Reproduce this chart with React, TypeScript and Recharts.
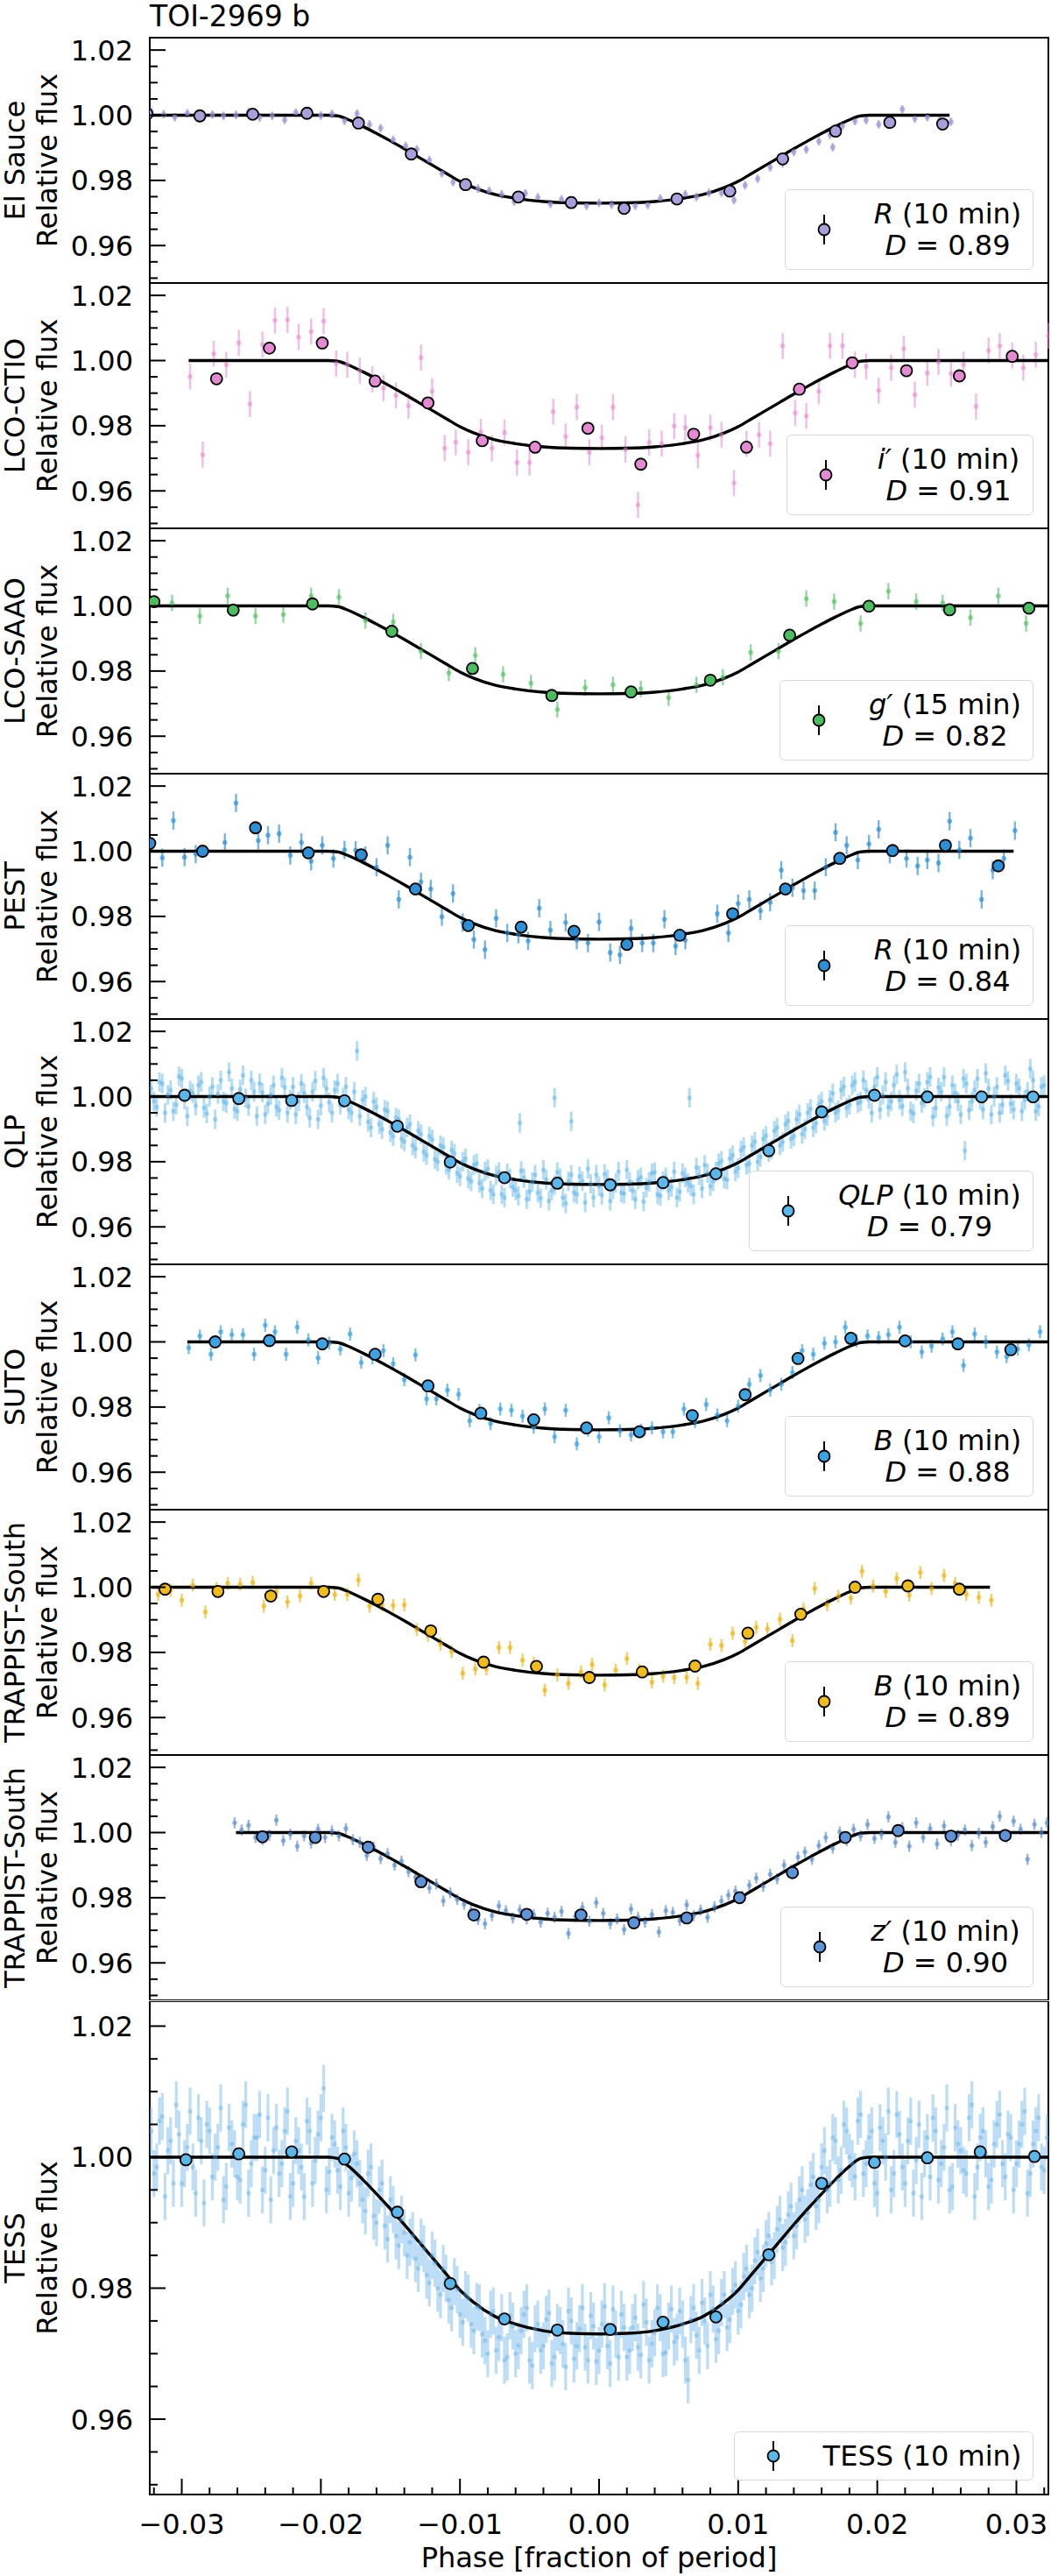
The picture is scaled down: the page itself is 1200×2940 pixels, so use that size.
import React from 'react';
import { ComposedChart, Scatter, Line, XAxis, YAxis, ErrorBar, ReferenceArea, Legend, Label } from 'recharts';

const FONT = '"DejaVu Sans", Verdana, sans-serif';
const PLOT_LEFT = 171;

const PHASE_DOMAIN: [number, number] = [-0.0323, 0.0323];
const FLUX_DOMAIN: [number, number] = [0.9485, 1.0238];

const yMajorTicks = [0.96, 0.98, 1.0, 1.02];
const yMinorTicks = [0.95, 0.955, 0.965, 0.97, 0.975, 0.985, 0.99, 0.995, 1.005, 1.01, 1.015];
const xMajorTicks = [-0.03, -0.02, -0.01, 0, 0.01, 0.02, 0.03];
const xMinorTicks = [-0.032, -0.028, -0.026, -0.024, -0.022, -0.018, -0.016, -0.014, -0.012, -0.008, -0.006, -0.004, -0.002, 0.002, 0.004, 0.006, 0.008, 0.012, 0.014, 0.016, 0.018, 0.022, 0.024, 0.026, 0.028, 0.032];

// transit model (phase, relative flux)
const modelPhase = [-0.0195, -0.0188, -0.018, -0.017, -0.016, -0.015, -0.014, -0.013, -0.012, -0.011, -0.01, -0.009, -0.0075, -0.006, -0.004, -0.002, 0, 0.002, 0.004, 0.006, 0.0075, 0.009, 0.01, 0.011, 0.012, 0.013, 0.014, 0.015, 0.016, 0.017, 0.018, 0.0188, 0.0195];
const modelFlux = [1.0, 0.9998, 0.9986, 0.9966, 0.9944, 0.9921, 0.9897, 0.9872, 0.9847, 0.9822, 0.9797, 0.9778, 0.9757, 0.9745, 0.9735, 0.9731, 0.973, 0.9731, 0.9735, 0.9745, 0.9757, 0.9778, 0.9797, 0.9822, 0.9847, 0.9872, 0.9897, 0.9921, 0.9944, 0.9966, 0.9986, 0.9998, 1.0];

// ---------- El Sauce ----------
const elSauceRaw: [number, number][] = [[-0.0322,1.0012],[-0.0313,1.0003],[-0.0305,0.9994],[-0.0296,1.0006],[-0.0287,0.9990],[-0.0278,1.0002],[-0.0270,0.9998],[-0.0261,1.0001],[-0.0252,1.0010],[-0.0244,0.9993],[-0.0235,0.9998],[-0.0226,0.9986],[-0.0218,1.0008],[-0.0209,1.0012],[-0.0200,0.9999],[-0.0192,1.0004],[-0.0183,0.9983],[-0.0174,1.0005],[-0.0165,0.9972],[-0.0157,0.9960],[-0.0148,0.9924],[-0.0139,0.9905],[-0.0131,0.9895],[-0.0122,0.9862],[-0.0113,0.9822],[-0.0105,0.9795],[-0.0096,0.9790],[-0.0087,0.9775],[-0.0079,0.9768],[-0.0070,0.9757],[-0.0061,0.9735],[-0.0053,0.9760],[-0.0044,0.9748],[-0.0035,0.9728],[-0.0027,0.9742],[-0.0018,0.9738],[-0.0009,0.9722],[0.0000,0.9731],[0.0009,0.9726],[0.0018,0.9718],[0.0026,0.9722],[0.0035,0.9725],[0.0044,0.9744],[0.0053,0.9740],[0.0062,0.9757],[0.0070,0.9749],[0.0079,0.9762],[0.0088,0.9762],[0.0097,0.9740],[0.0105,0.9785],[0.0114,0.9805],[0.0123,0.9840],[0.0132,0.9852],[0.0140,0.9888],[0.0149,0.9895],[0.0158,0.9920],[0.0166,0.9940],[0.0168,0.9902],[0.0175,0.9968],[0.0184,0.9982],[0.0192,0.9985],[0.0201,0.9972],[0.0210,0.9978],[0.0218,1.0018],[0.0227,0.9990],[0.0236,0.9994],[0.0245,0.9985],[0.0253,0.9980]];
const elSauceBin: [number, number][] = [[-0.0325,1.0004],[-0.0287,0.9998],[-0.0249,1.0003],[-0.0210,1.0006],[-0.0173,0.9976],[-0.0135,0.9881],[-0.0096,0.9787],[-0.0058,0.9749],[-0.0020,0.9732],[0.0018,0.9714],[0.0056,0.9743],[0.0094,0.9767],[0.0132,0.9866],[0.0170,0.9951],[0.0209,0.9978],[0.0247,0.9973]];

// ---------- LCO-CTIO ----------
const ctioRaw: [number, number][] = [[-0.0294,0.9951],[-0.0285,0.9711],[-0.0277,1.0021],[-0.0268,0.9987],[-0.0259,1.0054],[-0.0251,0.9866],[-0.0242,1.0049],[-0.0233,1.0123],[-0.0224,1.0125],[-0.0216,1.0072],[-0.0207,1.0089],[-0.0198,1.0121],[-0.0189,0.9991],[-0.0181,0.9987],[-0.0172,0.9969],[-0.0163,0.9942],[-0.0155,0.9915],[-0.0146,0.9893],[-0.0137,0.9861],[-0.0128,1.0009],[-0.0120,0.9906],[-0.0111,0.9731],[-0.0103,0.9749],[-0.0094,0.9718],[-0.0085,0.9781],[-0.0077,0.9731],[-0.0068,0.9779],[-0.0059,0.9687],[-0.0050,0.9687],[-0.0033,0.9843],[-0.0024,0.9767],[-0.0016,0.9857],[-0.0007,0.9718],[0.0002,0.9763],[0.0010,0.9857],[0.0019,0.9727],[0.0028,0.9557],[0.0036,0.9749],[0.0045,0.9745],[0.0054,0.9799],[0.0062,0.9794],[0.0071,0.9709],[0.0080,0.9794],[0.0088,0.9772],[0.0097,0.9624],[0.0106,0.9745],[0.0115,0.9772],[0.0123,0.9745],[0.0132,1.0045],[0.0141,0.9839],[0.0149,0.9830],[0.0158,0.9906],[0.0166,1.0045],[0.0175,1.0045],[0.0184,0.9987],[0.0192,0.9982],[0.0201,0.9908],[0.0210,0.9978],[0.0219,1.0036],[0.0227,0.9895],[0.0236,0.9962],[0.0244,0.9996],[0.0253,0.9960],[0.0262,0.9987],[0.0271,0.9859],[0.0280,1.0031],[0.0288,1.0045],[0.0297,1.0015],[0.0305,0.9978],[0.0314,1.0018],[0.0323,1.0076]];
const ctioBin: [number, number][] = [[-0.0275,0.9944],[-0.0237,1.0038],[-0.0199,1.0054],[-0.0161,0.9937],[-0.0123,0.9870],[-0.0084,0.9754],[-0.0046,0.9734],[-0.0008,0.9792],[0.0030,0.9682],[0.0068,0.9774],[0.0106,0.9734],[0.0144,0.9912],[0.0182,0.9993],[0.0221,0.9969],[0.0259,0.9953],[0.0297,1.0013]];

// ---------- LCO-SAAO ----------
const saaoRaw: [number, number][] = [[-0.0307,1.0009],[-0.0287,0.9969],[-0.0267,1.0031],[-0.0247,0.9969],[-0.0227,0.9973],[-0.0207,1.0031],[-0.0187,1.0027],[-0.0168,0.9955],[-0.0148,0.9951],[-0.0128,0.9861],[-0.0108,0.9794],[-0.0089,0.9848],[-0.0069,0.9790],[-0.0049,0.9763],[-0.0030,0.9682],[-0.0010,0.9749],[0.0010,0.9758],[0.0030,0.9745],[0.0050,0.9718],[0.0070,0.9758],[0.0089,0.9781],[0.0109,0.9857],[0.0129,0.9861],[0.0149,1.0022],[0.0169,1.0013],[0.0188,0.9946],[0.0208,1.0045],[0.0228,1.0013],[0.0247,1.0009],[0.0267,0.9964],[0.0287,1.0031],[0.0307,0.9946]];
const saaoBin: [number, number][] = [[-0.0320,1.0013],[-0.0263,0.9987],[-0.0206,1.0006],[-0.0149,0.9922],[-0.0091,0.9808],[-0.0034,0.9725],[0.0023,0.9736],[0.0080,0.9772],[0.0137,0.9910],[0.0194,0.9999],[0.0252,0.9988],[0.0309,0.9993]];

// ---------- PEST ----------
const pestRaw: [number, number][] = [[-0.0314,0.9980],[-0.0306,1.0094],[-0.0298,0.9982],[-0.0290,0.9991],[-0.0269,1.0027],[-0.0261,1.0148],[-0.0245,1.0033],[-0.0238,1.0049],[-0.0230,1.0054],[-0.0222,0.9987],[-0.0214,1.0027],[-0.0207,0.9969],[-0.0199,1.0018],[-0.0191,0.9978],[-0.0183,1.0004],[-0.0175,1.0003],[-0.0168,0.9987],[-0.0160,0.9951],[-0.0152,1.0018],[-0.0144,0.9852],[-0.0136,0.9982],[-0.0128,0.9906],[-0.0121,0.9884],[-0.0113,0.9799],[-0.0105,0.9870],[-0.0098,0.9781],[-0.0090,0.9729],[-0.0082,0.9698],[-0.0074,0.9794],[-0.0066,0.9749],[-0.0058,0.9745],[-0.0051,0.9725],[-0.0043,0.9825],[-0.0035,0.9758],[-0.0024,0.9781],[-0.0016,0.9727],[-0.0008,0.9718],[0.0000,0.9783],[0.0008,0.9689],[0.0015,0.9682],[0.0023,0.9763],[0.0031,0.9718],[0.0039,0.9718],[0.0047,0.9791],[0.0055,0.9709],[0.0062,0.9727],[0.0085,0.9808],[0.0093,0.9749],[0.0100,0.9839],[0.0108,0.9852],[0.0116,0.9817],[0.0123,0.9843],[0.0131,0.9942],[0.0139,0.9888],[0.0147,0.9879],[0.0155,0.9879],[0.0163,0.9951],[0.0170,1.0058],[0.0178,1.0018],[0.0186,0.9973],[0.0194,1.0022],[0.0201,1.0067],[0.0209,0.9991],[0.0221,0.9978],[0.0229,0.9955],[0.0236,0.9973],[0.0244,0.9964],[0.0252,1.0092],[0.0259,1.0004],[0.0267,1.0040],[0.0275,0.9852],[0.0283,0.9942],[0.0291,0.9978],[0.0299,1.0063]];
const pestBin: [number, number][] = [[-0.0323,1.0024],[-0.0285,1.0000],[-0.0247,1.0072],[-0.0209,0.9995],[-0.0171,0.9989],[-0.0132,0.9884],[-0.0094,0.9772],[-0.0056,0.9767],[-0.0018,0.9754],[0.0020,0.9714],[0.0058,0.9742],[0.0096,0.9808],[0.0134,0.9884],[0.0173,0.9978],[0.0211,1.0002],[0.0249,1.0018],[0.0287,0.9955]];

// ---------- QLP ----------
const qlpRaw: [number, number][] = [[-0.0322,1.0025],[-0.0318,0.9968],[-0.0314,1.0040],[-0.0310,1.0005],[-0.0306,0.9955],[-0.0302,1.0062],[-0.0298,0.9990],[-0.0294,1.0018],[-0.0290,0.9972],[-0.0286,1.0045],[-0.0282,0.9948],[-0.0278,1.0030],[-0.0274,1.0008],[-0.0270,0.9985],[-0.0266,1.0075],[-0.0262,0.9962],[-0.0258,1.0022],[-0.0254,0.9995],[-0.0250,1.0050],[-0.0246,0.9940],[-0.0242,1.0012],[-0.0238,0.9978],[-0.0234,1.0035],[-0.0230,0.9958],[-0.0226,1.0028],[-0.0222,0.9990],[-0.0218,0.9945],[-0.0214,1.0040],[-0.0210,0.9968],[-0.0206,1.0015],[-0.0202,0.9930],[-0.0198,1.0058],[-0.0194,0.9982],[-0.0190,1.0020],[-0.0186,0.9975],[-0.0182,1.0030],[-0.0178,0.9950],[-0.0174,1.0140],[-0.0170,0.9990],[-0.0166,0.9922],[-0.0162,0.9985],[-0.0158,0.9915],[-0.0154,0.9960],[-0.0150,0.9890],[-0.0146,0.9935],[-0.0142,0.9870],[-0.0138,0.9905],[-0.0134,0.9850],[-0.0130,0.9895],[-0.0126,0.9830],[-0.0122,0.9878],[-0.0118,0.9808],[-0.0114,0.9850],[-0.0110,0.9790],[-0.0106,0.9835],[-0.0102,0.9765],[-0.0098,0.9800],[-0.0094,0.9748],[-0.0090,0.9790],[-0.0086,0.9735],[-0.0082,0.9770],[-0.0078,0.9712],[-0.0074,0.9758],[-0.0070,0.9700],[-0.0066,0.9765],[-0.0062,0.9722],[-0.0058,0.9695],[-0.0057,0.9919],[-0.0054,0.9750],[-0.0050,0.9708],[-0.0046,0.9760],[-0.0042,0.9688],[-0.0038,0.9745],[-0.0034,0.9712],[-0.0032,0.9996],[-0.0030,0.9768],[-0.0026,0.9690],[-0.0022,0.9740],[-0.0020,0.9924],[-0.0018,0.9705],[-0.0014,0.9755],[-0.0010,0.9675],[-0.0006,0.9732],[-0.0002,0.9760],[0.0002,0.9698],[0.0006,0.9745],[0.0010,0.9715],[0.0014,0.9770],[0.0018,0.9702],[0.0022,0.9738],[0.0026,0.9685],[0.0030,0.9752],[0.0034,0.9720],[0.0038,0.9765],[0.0042,0.9700],[0.0046,0.9740],[0.0050,0.9712],[0.0054,0.9770],[0.0058,0.9708],[0.0062,0.9752],[0.0065,0.9996],[0.0066,0.9725],[0.0070,0.9782],[0.0074,0.9718],[0.0078,0.9765],[0.0082,0.9740],[0.0086,0.9795],[0.0090,0.9748],[0.0094,0.9810],[0.0098,0.9770],[0.0102,0.9835],[0.0106,0.9790],[0.0110,0.9850],[0.0114,0.9800],[0.0118,0.9870],[0.0122,0.9830],[0.0126,0.9895],[0.0130,0.9850],[0.0134,0.9915],[0.0138,0.9870],[0.0142,0.9930],[0.0146,0.9885],[0.0150,0.9950],[0.0154,0.9905],[0.0158,0.9975],[0.0162,0.9925],[0.0166,0.9990],[0.0170,0.9950],[0.0174,1.0020],[0.0178,0.9965],[0.0182,1.0035],[0.0186,0.9980],[0.0190,1.0050],[0.0194,0.9992],[0.0198,1.0030],[0.0202,0.9960],[0.0206,1.0045],[0.0210,0.9985],[0.0214,1.0068],[0.0218,0.9970],[0.0222,1.0025],[0.0226,0.9948],[0.0230,1.0040],[0.0234,0.9995],[0.0238,1.0060],[0.0242,0.9965],[0.0246,1.0015],[0.0250,0.9940],[0.0254,1.0035],[0.0258,0.9985],[0.0262,1.0055],[0.0263,0.9834],[0.0266,0.9958],[0.0270,1.0020],[0.0274,0.9990],[0.0278,1.0072],[0.0282,0.9945],[0.0286,1.0030],[0.0290,0.9975],[0.0294,1.0048],[0.0298,0.9960],[0.0302,1.0025],[0.0306,0.9990],[0.0310,1.0085],[0.0314,0.9955],[0.0318,1.0030]];
const qlpRaw2: [number, number][] = [[-0.0320,0.9985],[-0.0316,1.0045],[-0.0312,0.9950],[-0.0308,1.0020],[-0.0304,0.9975],[-0.0300,1.0055],[-0.0296,0.9940],[-0.0292,1.0010],[-0.0288,1.0035],[-0.0284,0.9965],[-0.0280,1.0000],[-0.0276,0.9930],[-0.0272,1.0050],[-0.0268,0.9980],[-0.0264,1.0025],[-0.0260,0.9955],[-0.0256,1.0065],[-0.0252,0.9970],[-0.0248,1.0015],[-0.0244,1.0040],[-0.0240,0.9945],[-0.0236,1.0005],[-0.0232,0.9968],[-0.0228,1.0058],[-0.0224,0.9950],[-0.0220,1.0030],[-0.0216,0.9985],[-0.0212,1.0010],[-0.0208,0.9935],[-0.0204,1.0048],[-0.0200,0.9972],[-0.0196,1.0025],[-0.0192,0.9950],[-0.0188,1.0040],[-0.0184,0.9995],[-0.0180,0.9960],[-0.0176,1.0015],[-0.0172,0.9940],[-0.0168,1.0000],[-0.0164,0.9905],[-0.0160,0.9968],[-0.0156,0.9900],[-0.0152,0.9955],[-0.0148,0.9878],[-0.0144,0.9930],[-0.0140,0.9862],[-0.0136,0.9915],[-0.0132,0.9840],[-0.0128,0.9885],[-0.0124,0.9820],[-0.0120,0.9868],[-0.0116,0.9800],[-0.0112,0.9845],[-0.0108,0.9775],[-0.0104,0.9825],[-0.0100,0.9755],[-0.0096,0.9810],[-0.0092,0.9740],[-0.0088,0.9795],[-0.0084,0.9718],[-0.0080,0.9778],[-0.0076,0.9700],[-0.0072,0.9768],[-0.0068,0.9690],[-0.0064,0.9748],[-0.0060,0.9712],[-0.0056,0.9772],[-0.0052,0.9685],[-0.0048,0.9738],[-0.0044,0.9705],[-0.0040,0.9775],[-0.0036,0.9680],[-0.0032,0.9728],[-0.0028,0.9750],[-0.0024,0.9672],[-0.0020,0.9760],[-0.0016,0.9700],[-0.0012,0.9740],[-0.0008,0.9778],[-0.0004,0.9690],[0.0000,0.9725],[0.0004,0.9762],[0.0008,0.9680],[0.0012,0.9735],[0.0016,0.9705],[0.0020,0.9775],[0.0024,0.9712],[0.0028,0.9745],[0.0032,0.9678],[0.0036,0.9738],[0.0040,0.9768],[0.0044,0.9695],[0.0048,0.9752],[0.0052,0.9722],[0.0056,0.9690],[0.0060,0.9765],[0.0064,0.9735],[0.0068,0.9700],[0.0072,0.9758],[0.0076,0.9790],[0.0080,0.9725],[0.0084,0.9770],[0.0088,0.9802],[0.0092,0.9745],[0.0096,0.9820],[0.0100,0.9780],[0.0104,0.9845],[0.0108,0.9795],[0.0112,0.9862],[0.0116,0.9815],[0.0120,0.9880],[0.0124,0.9838],[0.0128,0.9905],[0.0132,0.9860],[0.0136,0.9925],[0.0140,0.9878],[0.0144,0.9945],[0.0148,0.9900],[0.0152,0.9962],[0.0156,0.9918],[0.0160,0.9985],[0.0164,0.9940],[0.0168,1.0010],[0.0172,0.9958],[0.0176,1.0030],[0.0180,0.9975],[0.0184,1.0045],[0.0188,0.9985],[0.0192,1.0020],[0.0196,0.9950],[0.0200,1.0060],[0.0204,1.0005],[0.0208,0.9968],[0.0212,1.0035],[0.0216,0.9990],[0.0220,1.0075],[0.0224,0.9955],[0.0228,1.0018],[0.0232,0.9980],[0.0236,1.0045],[0.0240,0.9938],[0.0244,1.0028],[0.0248,1.0060],[0.0252,0.9970],[0.0256,1.0010],[0.0260,0.9945],[0.0264,1.0040],[0.0268,0.9985],[0.0272,1.0055],[0.0276,0.9960],[0.0280,1.0025],[0.0284,1.0000],[0.0288,0.9950],[0.0292,1.0065],[0.0296,0.9978],[0.0300,1.0040],[0.0304,0.9955],[0.0308,1.0015],[0.0312,1.0050],[0.0316,0.9970],[0.0320,1.0035]];
const qlpBin: [number, number][] = [[-0.0298,1.0004],[-0.0259,0.9994],[-0.0221,0.9988],[-0.0183,0.9987],[-0.0145,0.9909],[-0.0107,0.9799],[-0.0068,0.9751],[-0.0030,0.9734],[0.0008,0.9729],[0.0046,0.9736],[0.0084,0.9763],[0.0122,0.9834],[0.0160,0.9953],[0.0198,1.0004],[0.0236,0.9999],[0.0275,0.9999],[0.0312,0.9999]];

// ---------- SUTO ----------
const sutoRaw: [number, number][] = [[-0.0295,0.9982],[-0.0287,1.0018],[-0.0279,0.9962],[-0.0272,1.0031],[-0.0264,1.0022],[-0.0256,1.0022],[-0.0248,0.9962],[-0.0240,1.0051],[-0.0233,1.0031],[-0.0225,0.9962],[-0.0217,1.0045],[-0.0209,1.0006],[-0.0202,0.9951],[-0.0194,0.9996],[-0.0186,0.9978],[-0.0179,1.0024],[-0.0171,0.9937],[-0.0163,0.9951],[-0.0155,0.9973],[-0.0148,0.9933],[-0.0140,0.9884],[-0.0132,0.9960],[-0.0124,0.9825],[-0.0117,0.9825],[-0.0109,0.9852],[-0.0101,0.9839],[-0.0093,0.9758],[-0.0086,0.9790],[-0.0078,0.9749],[-0.0071,0.9794],[-0.0063,0.9790],[-0.0055,0.9772],[-0.0047,0.9738],[-0.0039,0.9794],[-0.0032,0.9709],[-0.0024,0.9790],[-0.0016,0.9687],[-0.0008,0.9729],[0.0000,0.9709],[0.0007,0.9767],[0.0015,0.9727],[0.0023,0.9714],[0.0030,0.9729],[0.0038,0.9736],[0.0046,0.9724],[0.0053,0.9724],[0.0061,0.9794],[0.0069,0.9756],[0.0077,0.9808],[0.0085,0.9776],[0.0092,0.9758],[0.0100,0.9803],[0.0108,0.9870],[0.0116,0.9897],[0.0123,0.9852],[0.0131,0.9870],[0.0139,0.9906],[0.0146,0.9973],[0.0154,0.9962],[0.0162,0.9996],[0.0170,1.0000],[0.0177,1.0045],[0.0185,1.0004],[0.0193,1.0018],[0.0201,1.0013],[0.0208,1.0022],[0.0216,1.0045],[0.0224,1.0000],[0.0232,0.9969],[0.0239,0.9987],[0.0247,1.0009],[0.0254,1.0031],[0.0262,0.9928],[0.0270,1.0024],[0.0278,1.0000],[0.0286,0.9969],[0.0293,0.9955],[0.0301,0.9978],[0.0309,0.9991],[0.0317,1.0031]];
const sutoBin: [number, number][] = [[-0.0276,1.0000],[-0.0237,1.0004],[-0.0199,0.9994],[-0.0161,0.9962],[-0.0123,0.9865],[-0.0085,0.9781],[-0.0047,0.9761],[-0.0009,0.9736],[0.0029,0.9724],[0.0067,0.9774],[0.0105,0.9838],[0.0143,0.9949],[0.0181,1.0011],[0.0220,1.0003],[0.0258,0.9994],[0.0296,0.9976]];

// ---------- TRAPPIST-South B ----------
const trapBRaw: [number, number][] = [[-0.0317,0.9978],[-0.0308,0.9991],[-0.0300,0.9960],[-0.0292,1.0006],[-0.0283,0.9924],[-0.0275,0.9996],[-0.0267,1.0012],[-0.0258,1.0009],[-0.0249,1.0015],[-0.0241,0.9942],[-0.0232,0.9987],[-0.0224,0.9955],[-0.0215,0.9973],[-0.0207,1.0012],[-0.0199,0.9987],[-0.0190,0.9978],[-0.0181,0.9978],[-0.0173,1.0022],[-0.0165,0.9942],[-0.0156,0.9946],[-0.0148,0.9944],[-0.0140,0.9946],[-0.0131,0.9870],[-0.0123,0.9852],[-0.0114,0.9825],[-0.0106,0.9803],[-0.0098,0.9736],[-0.0089,0.9749],[-0.0081,0.9749],[-0.0072,0.9815],[-0.0064,0.9815],[-0.0055,0.9776],[-0.0047,0.9767],[-0.0039,0.9684],[-0.0030,0.9731],[-0.0022,0.9705],[-0.0013,0.9740],[-0.0005,0.9763],[0.0004,0.9700],[0.0012,0.9745],[0.0020,0.9781],[0.0029,0.9745],[0.0038,0.9709],[0.0046,0.9727],[0.0054,0.9723],[0.0063,0.9723],[0.0071,0.9705],[0.0080,0.9825],[0.0088,0.9821],[0.0096,0.9859],[0.0105,0.9834],[0.0113,0.9877],[0.0121,0.9872],[0.0130,0.9902],[0.0139,0.9836],[0.0147,0.9933],[0.0155,0.9996],[0.0164,0.9946],[0.0172,0.9973],[0.0181,0.9967],[0.0189,1.0049],[0.0197,1.0004],[0.0206,0.9987],[0.0214,1.0027],[0.0223,0.9976],[0.0231,1.0045],[0.0239,0.9996],[0.0248,1.0036],[0.0256,1.0012],[0.0264,0.9978],[0.0273,0.9969],[0.0282,0.9960]];
const trapBBin: [number, number][] = [[-0.0312,0.9994],[-0.0274,0.9987],[-0.0236,0.9973],[-0.0198,0.9987],[-0.0159,0.9963],[-0.0121,0.9866],[-0.0083,0.9770],[-0.0045,0.9757],[-0.0007,0.9723],[0.0031,0.9740],[0.0069,0.9758],[0.0107,0.9859],[0.0145,0.9917],[0.0184,1.0000],[0.0222,1.0004],[0.0259,0.9994]];

// ---------- TRAPPIST-South z' ----------
const trapZRaw: [number, number][] = [[-0.0262,1.0030],[-0.0257,1.0008],[-0.0252,1.0022],[-0.0247,0.9985],[-0.0242,0.9978],[-0.0237,0.9992],[-0.0232,1.0038],[-0.0227,0.9975],[-0.0222,0.9995],[-0.0217,0.9958],[-0.0212,0.9990],[-0.0207,0.9968],[-0.0202,1.0010],[-0.0197,0.9985],[-0.0192,1.0005],[-0.0187,0.9990],[-0.0182,1.0012],[-0.0177,0.9978],[-0.0172,0.9970],[-0.0167,0.9930],[-0.0162,0.9956],[-0.0157,0.9920],[-0.0152,0.9935],[-0.0147,0.9900],[-0.0142,0.9912],[-0.0137,0.9880],[-0.0132,0.9862],[-0.0127,0.9855],[-0.0122,0.9830],[-0.0117,0.9842],[-0.0112,0.9790],[-0.0107,0.9815],[-0.0102,0.9795],[-0.0097,0.9780],[-0.0092,0.9762],[-0.0087,0.9733],[-0.0082,0.9720],[-0.0077,0.9745],[-0.0072,0.9775],[-0.0067,0.9760],[-0.0062,0.9738],[-0.0057,0.9762],[-0.0052,0.9735],[-0.0047,0.9748],[-0.0042,0.9725],[-0.0037,0.9752],[-0.0032,0.9740],[-0.0027,0.9758],[-0.0022,0.9690],[-0.0017,0.9742],[-0.0012,0.9770],[-0.0007,0.9728],[-0.0002,0.9785],[0.0003,0.9752],[0.0008,0.9720],[0.0013,0.9735],[0.0018,0.9702],[0.0023,0.9765],[0.0028,0.9740],[0.0033,0.9725],[0.0038,0.9748],[0.0043,0.9695],[0.0048,0.9760],[0.0053,0.9755],[0.0058,0.9730],[0.0063,0.9778],[0.0068,0.9745],[0.0073,0.9762],[0.0078,0.9740],[0.0083,0.9772],[0.0088,0.9790],[0.0093,0.9808],[0.0098,0.9820],[0.0103,0.9805],[0.0108,0.9838],[0.0113,0.9860],[0.0118,0.9835],[0.0123,0.9872],[0.0128,0.9858],[0.0133,0.9900],[0.0138,0.9885],[0.0143,0.9925],[0.0148,0.9940],[0.0153,0.9918],[0.0158,0.9960],[0.0163,0.9985],[0.0168,0.9952],[0.0173,1.0002],[0.0178,0.9975],[0.0183,1.0010],[0.0188,0.9990],[0.0193,1.0025],[0.0198,0.9982],[0.0203,0.9995],[0.0208,1.0048],[0.0213,0.9970],[0.0218,1.0015],[0.0223,0.9958],[0.0228,1.0030],[0.0233,0.9985],[0.0238,1.0012],[0.0243,0.9965],[0.0248,1.0020],[0.0253,0.9975],[0.0258,0.9992],[0.0263,1.0008],[0.0268,0.9960],[0.0273,0.9998],[0.0278,0.9970],[0.0283,1.0018],[0.0288,1.0050],[0.0293,0.9985],[0.0298,1.0035],[0.0303,1.0010],[0.0308,0.9918],[0.0313,1.0025],[0.0318,1.0000],[0.0322,1.0030]];
const trapZBin: [number, number][] = [[-0.0242,0.9987],[-0.0204,0.9985],[-0.0166,0.9955],[-0.0128,0.9849],[-0.0090,0.9747],[-0.0052,0.9749],[-0.0013,0.9747],[0.0025,0.9723],[0.0063,0.9738],[0.0101,0.9800],[0.0139,0.9877],[0.0177,0.9985],[0.0215,1.0006],[0.0253,0.9989],[0.0292,0.9991]];

// ---------- TESS ----------
const tessRaw: [number, number][] = [[-0.0322,1.0040],[-0.0318,0.9985],[-0.0314,1.0062],[-0.0310,1.0010],[-0.0306,0.9960],[-0.0302,1.0035],[-0.0298,0.9990],[-0.0294,1.0070],[-0.0290,0.9945],[-0.0286,1.0025],[-0.0282,1.0050],[-0.0278,0.9970],[-0.0274,1.0015],[-0.0270,0.9935],[-0.0266,1.0045],[-0.0262,1.0005],[-0.0258,0.9965],[-0.0254,1.0080],[-0.0250,0.9990],[-0.0246,1.0030],[-0.0242,0.9950],[-0.0238,1.0060],[-0.0234,1.0010],[-0.0230,0.9975],[-0.0226,1.0040],[-0.0222,0.9940],[-0.0218,1.0025],[-0.0214,0.9985],[-0.0210,1.0055],[-0.0206,0.9960],[-0.0202,1.0035],[-0.0198,1.0105],[-0.0194,0.9978],[-0.0190,1.0020],[-0.0186,0.9955],[-0.0182,1.0015],[-0.0178,0.9968],[-0.0174,0.9990],[-0.0170,0.9935],[-0.0166,0.9975],[-0.0162,0.9910],[-0.0158,0.9950],[-0.0154,0.9895],[-0.0150,0.9935],[-0.0146,0.9880],[-0.0142,0.9905],[-0.0138,0.9850],[-0.0134,0.9880],[-0.0130,0.9830],[-0.0126,0.9860],[-0.0122,0.9808],[-0.0118,0.9838],[-0.0114,0.9790],[-0.0110,0.9815],[-0.0106,0.9770],[-0.0102,0.9798],[-0.0098,0.9748],[-0.0094,0.9785],[-0.0090,0.9735],[-0.0086,0.9770],[-0.0082,0.9720],[-0.0078,0.9760],[-0.0074,0.9705],[-0.0070,0.9755],[-0.0066,0.9695],[-0.0062,0.9742],[-0.0058,0.9712],[-0.0054,0.9760],[-0.0050,0.9690],[-0.0046,0.9738],[-0.0042,0.9705],[-0.0038,0.9752],[-0.0034,0.9685],[-0.0030,0.9740],[-0.0026,0.9715],[-0.0022,0.9765],[-0.0018,0.9692],[-0.0014,0.9738],[-0.0010,0.9710],[-0.0006,0.9758],[-0.0002,0.9688],[0.0002,0.9745],[0.0006,0.9712],[0.0010,0.9768],[0.0014,0.9695],[0.0018,0.9740],[0.0022,0.9705],[0.0026,0.9755],[0.0030,0.9698],[0.0034,0.9748],[0.0038,0.9715],[0.0042,0.9770],[0.0046,0.9700],[0.0050,0.9742],[0.0054,0.9718],[0.0058,0.9765],[0.0062,0.9690],[0.0066,0.9752],[0.0070,0.9728],[0.0074,0.9778],[0.0078,0.9712],[0.0082,0.9768],[0.0086,0.9735],[0.0090,0.9790],[0.0094,0.9752],[0.0098,0.9805],[0.0102,0.9775],[0.0106,0.9830],[0.0110,0.9800],[0.0114,0.9855],[0.0118,0.9830],[0.0122,0.9880],[0.0126,0.9850],[0.0130,0.9905],[0.0134,0.9870],[0.0138,0.9925],[0.0142,0.9895],[0.0146,0.9950],[0.0150,0.9915],[0.0154,0.9970],[0.0158,0.9935],[0.0162,1.0010],[0.0166,0.9960],[0.0170,1.0025],[0.0174,0.9980],[0.0178,1.0040],[0.0182,0.9990],[0.0186,1.0055],[0.0190,0.9975],[0.0194,1.0030],[0.0198,0.9960],[0.0202,1.0045],[0.0206,1.0000],[0.0210,0.9950],[0.0214,1.0065],[0.0218,0.9985],[0.0222,1.0025],[0.0226,0.9945],[0.0230,1.0050],[0.0234,1.0005],[0.0238,0.9970],[0.0242,1.0040],[0.0246,0.9990],[0.0250,1.0075],[0.0254,0.9955],[0.0258,1.0020],[0.0262,0.9980],[0.0266,1.0060],[0.0270,0.9940],[0.0274,1.0030],[0.0278,1.0005],[0.0282,0.9965],[0.0286,1.0050],[0.0290,0.9990],[0.0294,1.0035],[0.0298,0.9950],[0.0302,1.0020],[0.0306,1.0070],[0.0310,0.9975],[0.0314,1.0040],[0.0318,0.9985],[0.0322,1.0030]];
const tessRaw2: [number, number][] = [[-0.0320,0.9975],[-0.0316,1.0055],[-0.0312,0.9940],[-0.0308,1.0025],[-0.0304,1.0080],[-0.0300,0.9960],[-0.0296,1.0015],[-0.0292,0.9985],[-0.0288,1.0060],[-0.0284,0.9930],[-0.0280,1.0040],[-0.0276,1.0000],[-0.0272,1.0075],[-0.0268,0.9955],[-0.0264,1.0020],[-0.0260,0.9970],[-0.0256,1.0050],[-0.0252,0.9945],[-0.0248,1.0030],[-0.0244,1.0065],[-0.0240,0.9980],[-0.0236,0.9935],[-0.0232,1.0045],[-0.0228,0.9990],[-0.0224,1.0070],[-0.0220,0.9960],[-0.0216,1.0010],[-0.0212,0.9940],[-0.0208,1.0040],[-0.0204,0.9995],[-0.0200,1.0060],[-0.0196,0.9950],[-0.0192,1.0030],[-0.0188,0.9980],[-0.0184,1.0040],[-0.0180,0.9945],[-0.0176,1.0005],[-0.0172,0.9960],[-0.0168,0.9918],[-0.0164,0.9985],[-0.0160,0.9900],[-0.0156,0.9960],[-0.0152,0.9875],[-0.0148,0.9920],[-0.0144,0.9865],[-0.0140,0.9885],[-0.0136,0.9870],[-0.0132,0.9845],[-0.0128,0.9870],[-0.0124,0.9820],[-0.0120,0.9850],[-0.0116,0.9800],[-0.0112,0.9830],[-0.0108,0.9782],[-0.0104,0.9810],[-0.0100,0.9760],[-0.0096,0.9790],[-0.0092,0.9745],[-0.0088,0.9772],[-0.0084,0.9730],[-0.0080,0.9700],[-0.0076,0.9765],[-0.0072,0.9725],[-0.0068,0.9690],[-0.0064,0.9758],[-0.0060,0.9700],[-0.0056,0.9735],[-0.0052,0.9770],[-0.0048,0.9682],[-0.0044,0.9745],[-0.0040,0.9712],[-0.0036,0.9762],[-0.0032,0.9695],[-0.0028,0.9735],[-0.0024,0.9680],[-0.0020,0.9750],[-0.0016,0.9712],[-0.0012,0.9770],[-0.0008,0.9690],[-0.0004,0.9742],[0.0000,0.9705],[0.0004,0.9772],[0.0008,0.9685],[0.0012,0.9730],[0.0016,0.9760],[0.0020,0.9695],[0.0024,0.9740],[0.0028,0.9710],[0.0032,0.9775],[0.0036,0.9690],[0.0040,0.9732],[0.0044,0.9755],[0.0048,0.9702],[0.0052,0.9768],[0.0056,0.9725],[0.0060,0.9745],[0.0064,0.9660],[0.0068,0.9770],[0.0072,0.9705],[0.0076,0.9750],[0.0080,0.9790],[0.0084,0.9722],[0.0088,0.9778],[0.0092,0.9740],[0.0096,0.9795],[0.0100,0.9765],[0.0104,0.9818],[0.0108,0.9790],[0.0112,0.9842],[0.0116,0.9815],[0.0120,0.9868],[0.0124,0.9840],[0.0128,0.9890],[0.0132,0.9862],[0.0136,0.9912],[0.0140,0.9880],[0.0144,0.9935],[0.0148,0.9905],[0.0152,0.9958],[0.0156,0.9925],[0.0160,0.9985],[0.0164,0.9950],[0.0168,1.0030],[0.0172,0.9965],[0.0176,1.0050],[0.0180,1.0000],[0.0184,0.9970],[0.0188,1.0065],[0.0192,0.9990],[0.0196,1.0040],[0.0200,0.9945],[0.0204,1.0025],[0.0208,1.0070],[0.0212,0.9975],[0.0216,1.0035],[0.0220,0.9960],[0.0224,1.0055],[0.0228,0.9995],[0.0232,0.9940],[0.0236,1.0030],[0.0240,1.0060],[0.0244,0.9965],[0.0248,1.0015],[0.0252,0.9950],[0.0256,1.0045],[0.0260,1.0010],[0.0264,0.9975],[0.0268,1.0080],[0.0272,0.9985],[0.0276,1.0040],[0.0280,0.9955],[0.0284,1.0020],[0.0288,1.0065],[0.0292,0.9970],[0.0296,1.0030],[0.0300,0.9990],[0.0304,1.0050],[0.0308,0.9945],[0.0312,1.0020],[0.0316,1.0060],[0.0320,0.9980]];
const tessBin: [number, number][] = [[-0.0297,0.9996],[-0.0259,1.0005],[-0.0221,1.0008],[-0.0183,0.9997],[-0.0145,0.9916],[-0.0107,0.9807],[-0.0068,0.9753],[-0.0030,0.9736],[0.0008,0.9737],[0.0046,0.9748],[0.0084,0.9756],[0.0122,0.9851],[0.0160,0.9960],[0.0198,0.9992],[0.0236,0.9999],[0.0274,1.0008],[0.0313,1.0001]];

type Panel = {
  label: string[];
  raw: [number, number][];
  bin: [number, number][];
  err: number;
  modelRange: [number, number];
  binColor: string;
  rawColor: string;
  rawR: number;
  barW: number;
  line1: React.ReactNode;
  line2?: React.ReactNode;
  legendW: number;
};

const panels: Panel[] = [
  { label: ['El Sauce', 'Relative flux'], raw: elSauceRaw, bin: elSauceBin, err: 0.0013, modelRange: [-0.0326, 0.0252], binColor: '#ab9edb', rawColor: 'rgba(165,150,218,0.72)', rawR: 3, barW: 2.6, line1: <><i>R</i> (10 min)</>, line2: <><i>D</i> = 0.89</>, legendW: 284 },
  { label: ['LCO-CTIO', 'Relative flux'], raw: ctioRaw, bin: ctioBin, err: 0.004, modelRange: [-0.0295, 0.0326], binColor: '#e38ad3', rawColor: 'rgba(226,135,210,0.55)', rawR: 2.8, barW: 2.4, line1: <><i>i′</i> (10 min)</>, line2: <><i>D</i> = 0.91</>, legendW: 282 },
  { label: ['LCO-SAAO', 'Relative flux'], raw: saaoRaw, bin: saaoBin, err: 0.0025, modelRange: [-0.0326, 0.0326], binColor: '#4dbb5f', rawColor: 'rgba(85,190,100,0.62)', rawR: 2.8, barW: 2.4, line1: <><i>g′</i> (15 min)</>, line2: <><i>D</i> = 0.82</>, legendW: 290 },
  { label: ['PEST', 'Relative flux'], raw: pestRaw, bin: pestBin, err: 0.0028, modelRange: [-0.0326, 0.0298], binColor: '#2f8fd4', rawColor: 'rgba(45,140,210,0.65)', rawR: 2.8, barW: 2.4, line1: <><i>R</i> (10 min)</>, line2: <><i>D</i> = 0.84</>, legendW: 284 },
  { label: ['QLP', 'Relative flux'], raw: qlpRaw.concat(qlpRaw2), bin: qlpBin, err: 0.003, modelRange: [-0.0326, 0.0326], binColor: '#5bb7ea', rawColor: 'rgba(85,175,230,0.45)', rawR: 2.6, barW: 3, line1: <><i>QLP</i> (10 min)</>, line2: <><i>D</i> = 0.79</>, legendW: 325 },
  { label: ['SUTO', 'Relative flux'], raw: sutoRaw, bin: sutoBin, err: 0.002, modelRange: [-0.0296, 0.0326], binColor: '#3ca2e2', rawColor: 'rgba(55,158,222,0.65)', rawR: 2.8, barW: 2.4, line1: <><i>B</i> (10 min)</>, line2: <><i>D</i> = 0.88</>, legendW: 284 },
  { label: ['TRAPPIST-South', 'Relative flux'], raw: trapBRaw, bin: trapBBin, err: 0.002, modelRange: [-0.0322, 0.0281], binColor: '#f0bc1c', rawColor: 'rgba(236,182,20,0.65)', rawR: 2.8, barW: 2.4, line1: <><i>B</i> (10 min)</>, line2: <><i>D</i> = 0.89</>, legendW: 284 },
  { label: ['TRAPPIST-South', 'Relative flux'], raw: trapZRaw, bin: trapZBin, err: 0.0017, modelRange: [-0.0261, 0.0326], binColor: '#5f93d8', rawColor: 'rgba(90,140,205,0.62)', rawR: 2.7, barW: 2.4, line1: <><i>z′</i> (10 min)</>, line2: <><i>D</i> = 0.90</>, legendW: 289 },
  { label: ['TESS', 'Relative flux'], raw: tessRaw.concat(tessRaw2), bin: tessBin, err: 0.0036, modelRange: [-0.0326, 0.0326], binColor: '#5bb7ea', rawColor: 'rgba(95,175,230,0.42)', rawR: 2.6, barW: 3.2, line1: <>TESS (10 min)</>, legendW: 342 },
];

const yTicks = [...yMinorTicks, ...yMajorTicks].sort((a, b) => a - b);
const xTicks = [...xMinorTicks, ...xMajorTicks].sort((a, b) => a - b);

function buildModel(lo: number, hi: number) {
  const inner = modelPhase
    .map((x, i) => ({ x, y: modelFlux[i] }))
    .filter((p) => p.x > lo && p.x < hi);
  return [{ x: lo, y: 1.0 }, ...inner, { x: hi, y: 1.0 }];
}

const isIn = (arr: number[], v: number) => arr.some((m) => Math.abs(m - v) < 1e-7);

function YTick(props: any) {
  const { y, payload } = props;
  const v = payload.value as number;
  const major = isIn(yMajorTicks, v);
  return (
    <g>
      <line x1={PLOT_LEFT} x2={PLOT_LEFT + (major ? 18 : 9)} y1={y} y2={y} stroke="#000" strokeWidth={2} />
      {major && (
        <text x={PLOT_LEFT - 19} y={y} dy="0.36em" textAnchor="end" fontSize={32} fontFamily={FONT} fill="#000">
          {v.toFixed(2)}
        </text>
      )}
    </g>
  );
}

function XTick(props: any) {
  const { x, y, payload } = props;
  const v = payload.value as number;
  const major = isIn(xMajorTicks, v);
  const lbl = Math.abs(v) < 1e-9 ? '0.00' : (v < 0 ? '\u2212' : '') + Math.abs(v).toFixed(2);
  return (
    <g>
      <line x1={x} x2={x} y1={y} y2={y - (major ? 18 : 8)} stroke="#000" strokeWidth={2} />
      {major && (
        <text x={x} y={y + 45} textAnchor="middle" fontSize={32} fontFamily={FONT} fill="#000">
          {lbl}
        </text>
      )}
    </g>
  );
}

function LegendBox({ color, line1, line2 }: { color: string; line1: React.ReactNode; line2?: React.ReactNode }) {
  return (
    <div
      style={{
        boxSizing: 'border-box', width: '100%', height: '100%', border: '1.5px solid #d9d9d9', borderRadius: 6,
        background: 'rgba(255,255,255,0.8)', display: 'flex', alignItems: 'center', fontFamily: FONT, fontSize: 32, color: '#000',
      }}
    >
      <div style={{ width: 88, display: 'flex', justifyContent: 'center' }}>
        <svg width={20} height={36}>
          <line x1={10} x2={10} y1={1} y2={35} stroke="#000" strokeWidth={2} />
          <circle cx={10} cy={18} r={6.5} fill={color} stroke="#000" strokeWidth={1.8} />
        </svg>
      </div>
      <div style={{ flex: 1, textAlign: 'center', lineHeight: '36px', whiteSpace: 'nowrap' }}>
        <div>{line1}</div>
        {line2 && <div>{line2}</div>}
      </div>
    </div>
  );
}

function PanelChart({ p, top, marginTop, plotH, bottomAxis, title }: { p: Panel; top: number; marginTop: number; plotH: number; bottomAxis: boolean; title?: string }) {
  const axisH = bottomAxis ? 93 : 0;
  const height = marginTop + plotH + axisH;
  const rawData = p.raw.map(([x, y]) => ({ x, y, e: p.err }));
  const binData = p.bin.map(([x, y]) => ({ x, y }));
  const model = buildModel(p.modelRange[0], p.modelRange[1]);
  const cy = marginTop + plotH / 2;
  const legendH = p.line2 ? 92 : 56;
  const legendTop = p.line2 ? marginTop + 173 : marginTop + plotH - 72;

  const yLabel = () => (
    <g>
      {title && (
        <text x={PLOT_LEFT} y={30} fontSize={33} fontFamily={FONT} fill="#000">
          {title}
        </text>
      )}
      <g transform={`translate(28, ${cy}) rotate(-90)`}>
        <text x={0} y={0} textAnchor="middle" fontSize={32} fontFamily={FONT} fill="#000">{p.label[0]}</text>
        <text x={0} y={37} textAnchor="middle" fontSize={32} fontFamily={FONT} fill="#000">{p.label[1]}</text>
      </g>
    </g>
  );
  const xLabel = () => (
    <text x={684} y={marginTop + plotH + 83} textAnchor="middle" fontSize={32} fontFamily={FONT} fill="#000">
      Phase [fraction of period]
    </text>
  );

  return (
    <div style={{ position: 'absolute', left: 0, top, width: 1200, height }}>
      <ComposedChart width={1200} height={height} margin={{ top: marginTop, right: 3, bottom: 0, left: 0 }}>
        {bottomAxis ? (
          <XAxis
            type="number" dataKey="x" domain={PHASE_DOMAIN} allowDataOverflow height={93}
            ticks={xTicks} interval={0} tick={<XTick />} tickLine={false} axisLine={false} tickSize={0} tickMargin={0}
            label={<Label content={xLabel} />}
          />
        ) : (
          <XAxis type="number" dataKey="x" domain={PHASE_DOMAIN} allowDataOverflow hide height={0} />
        )}
        <YAxis
          type="number" dataKey="y" domain={FLUX_DOMAIN} allowDataOverflow width={PLOT_LEFT}
          ticks={yTicks} interval={0} tick={<YTick />} tickLine={false} axisLine={false} tickSize={0} tickMargin={0}
          label={<Label content={yLabel} />}
        />
        <Scatter
          data={rawData} dataKey="y" isAnimationActive={false} legendType="none"
          shape={(s: any) => <circle cx={s.cx} cy={s.cy} r={p.rawR} fill={p.rawColor} />}
        >
          <ErrorBar dataKey="e" direction="y" width={0} stroke={p.rawColor} strokeWidth={p.barW} />
        </Scatter>
        <Line data={model} dataKey="y" type="monotone" stroke="#000" strokeWidth={3.4} dot={false} activeDot={false} isAnimationActive={false} legendType="none" />
        <Scatter
          data={binData} dataKey="y" isAnimationActive={false} legendType="none"
          shape={(s: any) => <circle cx={s.cx} cy={s.cy} r={6.5} fill={p.binColor} stroke="#000" strokeWidth={1.8} />}
        />
        <ReferenceArea
          x1={PHASE_DOMAIN[0]} x2={PHASE_DOMAIN[1]} y1={FLUX_DOMAIN[0]} y2={FLUX_DOMAIN[1]}
          fill="none" fillOpacity={0} stroke="#000" strokeWidth={2} ifOverflow="visible"
        />
        <Legend
          layout="horizontal" verticalAlign="middle" align="center"
          wrapperStyle={{ left: 1180 - p.legendW, top: legendTop, width: p.legendW, height: legendH, margin: 0, padding: 0 }}
          content={() => <LegendBox color={p.binColor} line1={p.line1} line2={p.line2} />}
        />
      </ComposedChart>
    </div>
  );
}

export default function App() {
  return (
    <div style={{ position: 'absolute', left: 0, top: 0, width: 1200, height: 2940, background: '#fff', fontFamily: FONT }}>
      {panels.map((p, i) => {
        if (i === 0) {
          return <PanelChart key={i} p={p} top={0} marginTop={43} plotH={280} bottomAxis={false} title="TOI-2969 b" />;
        }
        if (i === panels.length - 1) {
          return <PanelChart key={i} p={p} top={2284} marginTop={0} plotH={563} bottomAxis />;
        }
        return <PanelChart key={i} p={p} top={43 + 280 * i} marginTop={0} plotH={280} bottomAxis={false} />;
      })}
    </div>
  );
}
